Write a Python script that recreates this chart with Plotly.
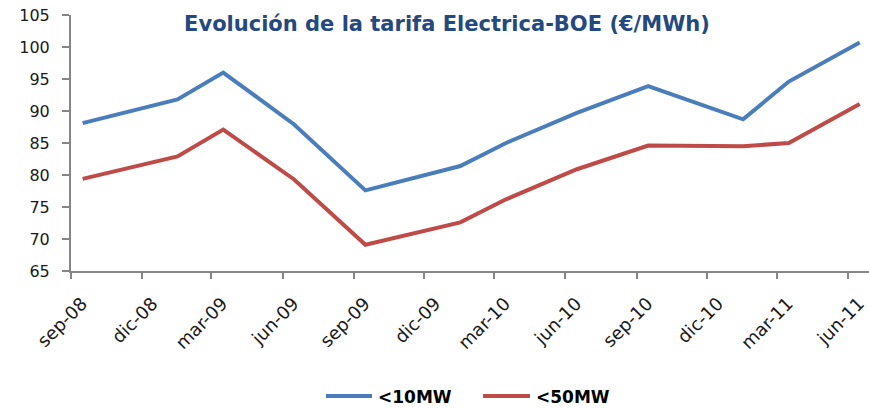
import plotly.graph_objects as go

# Tariff review months (points sit mid-month on a date axis)
months = ["2008-09", "2009-01", "2009-03", "2009-06", "2009-09", "2010-01",
          "2010-03", "2010-06", "2010-09", "2011-01", "2011-03", "2011-06"]

# €/MWh for each supply band
tarifa_10mw = [88.1, 91.8, 96.0, 87.9, 77.6, 81.4, 85.0, 89.7, 93.9, 88.7, 94.6, 100.7]
tarifa_50mw = [79.4, 82.9, 87.1, 79.3, 69.1, 72.6, 76.2, 80.9, 84.6, 84.5, 85.0, 91.1]

tick_labels = ["sep-08", "dic-08", "mar-09", "jun-09", "sep-09", "dic-09",
               "mar-10", "jun-10", "sep-10", "dic-10", "mar-11", "jun-11"]
tick_dates = ["2008-09-01", "2008-12-01", "2009-03-01", "2009-06-01",
              "2009-09-01", "2009-12-01", "2010-03-01", "2010-06-01",
              "2010-09-01", "2010-12-01", "2011-03-01", "2011-06-01"]

series = [
    ("<10MW", tarifa_10mw, "#4A7EBB"),
    ("<50MW", tarifa_50mw, "#BE4B48"),
]

W, H = 869, 409
M_L, M_R, M_T, M_B = 71, 0, 15, 138
PLOT_W = W - M_L - M_R
PLOT_H = H - M_T - M_B


def px_x(px):
    """Pixel column -> paper x."""
    return (px - M_L) / PLOT_W


def px_y(py):
    """Pixel row -> paper y."""
    return (H - M_B - py) / PLOT_H


fig = go.Figure()
for name, vals, color in series:
    fig.add_trace(go.Scatter(
        x=months, y=vals, name=name, mode="lines",
        xperiod="M1", xperiodalignment="middle",
        line=dict(color=color, width=4),
        showlegend=False,
    ))

# Legend drawn below the chart: a long line swatch followed by a bold label
legend_slots = [(326, 372, 376), (483, 530, 534)]
legend_row = 396
for (x0, x1, xt), (name, _, color) in zip(legend_slots, series):
    fig.add_shape(type="line", xref="paper", yref="paper",
                  x0=px_x(x0), x1=px_x(x1), y0=px_y(legend_row), y1=px_y(legend_row),
                  line=dict(color=color, width=4))
    fig.add_annotation(xref="paper", yref="paper",
                       x=px_x(xt), y=px_y(legend_row + 1),
                       xanchor="left", yanchor="middle", showarrow=False,
                       text=f"<b>{name.replace('<', '&lt;')}</b>",
                       font=dict(family="DejaVu Sans", size=17, color="#000000"))

axis_grey = "#868686"

fig.update_layout(
    width=W, height=H,
    margin=dict(l=M_L, r=M_R, t=M_T, b=M_B),
    paper_bgcolor="white", plot_bgcolor="white",
    showlegend=False,
    title=dict(
        text="<b>Evolución de la tarifa Electrica-BOE (€/MWh)</b>",
        font=dict(family="DejaVu Sans", size=21, color="#23497f"),
        x=447 / W, xanchor="center",
        y=1 - 23.5 / H, yanchor="middle", yref="container",
    ),
    xaxis=dict(
        type="date",
        range=["2008-09-01", "2011-06-28"],
        tickmode="array", tickvals=tick_dates, ticktext=tick_labels,
        tickangle=-45, ticklabelshift=11, ticklabelstandoff=7,
        ticks="outside", ticklen=6, tickwidth=1.5, tickcolor=axis_grey,
        showline=True, linecolor=axis_grey, linewidth=2,
        showgrid=False, zeroline=False,
        tickfont=dict(family="DejaVu Sans", size=18, color="#1a1a1a"),
    ),
    yaxis=dict(
        range=[65, 105], dtick=5, tick0=65,
        ticks="outside", ticklen=7, tickwidth=1.5, tickcolor=axis_grey,
        ticklabelstandoff=9,
        showline=True, linecolor=axis_grey, linewidth=2,
        showgrid=False, zeroline=False,
        tickfont=dict(family="DejaVu Sans", size=16, color="#1a1a1a"),
    ),
)

fig.write_html("out.html")
